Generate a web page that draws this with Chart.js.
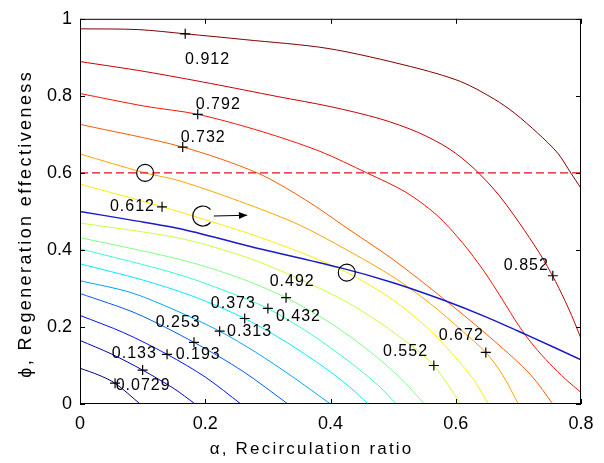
<!DOCTYPE html>
<html>
<head>
<meta charset="utf-8">
<script src="https://cdn.jsdelivr.net/npm/chart.js@4.4.0/dist/chart.umd.min.js"></script>
<style>
  html, body { margin: 0; padding: 0; background: #fff; }
  #wrap { width: 604px; height: 463px; }
</style>
</head>
<body>
<div id="wrap"><canvas id="chart" width="604" height="463"></canvas></div>
<script>
// contour levels and their lines, points as [alpha, phi]
const levels = ['0.0729', '0.133', '0.193', '0.253', '0.313', '0.373', '0.432', '0.492',
                '0.552', '0.612', '0.672', '0.732', '0.792', '0.852', '0.912'];

const c0729 = [[0,0.093],[0.03,0.075],[0.056,0.054],[0.096,0]];
const c133 = [[0,0.165],[0.05,0.13],[0.10,0.088],[0.15,0.04],[0.184,0]];
const c193 = [[0,0.23],[0.07,0.185],[0.139,0.129],[0.2,0.07],[0.257,0]];
const c253 = [[0,0.287],[0.09,0.235],[0.182,0.16],[0.26,0.085],[0.332,0]];
const c313 = [[0,0.32],[0.08,0.29],[0.15,0.245],[0.223,0.189],[0.28,0.135],[0.34,0.07],[0.40,0]];
const c373 = [[0,0.364],[0.1,0.322],[0.18,0.28],[0.263,0.222],[0.33,0.16],[0.39,0.095],[0.43,0.045],[0.46,0]];
const c432 = [[0,0.403],[0.15,0.34],[0.23,0.295],[0.30,0.248],[0.37,0.18],[0.43,0.11],[0.475,0.05],[0.505,0]];
const c492 = [[0,0.432],[0.16,0.375],[0.25,0.33],[0.329,0.276],[0.4,0.21],[0.46,0.14],[0.51,0.07],[0.55,0]];
const c552 = [[0,0.47],[0.16,0.43],[0.267,0.38],[0.35,0.325],[0.42,0.27],[0.48,0.21],[0.53,0.15],[0.565,0.10],[0.608,0]];
const c612 = [[0,0.571],[0.131,0.512],[0.267,0.444],[0.35,0.395],[0.426,0.342],[0.5,0.27],[0.56,0.19],[0.6,0.12],[0.63,0.06],[0.652,0]];
const c672 = [[0,0.649],[0.104,0.6],[0.16,0.579],[0.267,0.519],[0.35,0.465],[0.426,0.40],[0.5,0.33],[0.56,0.26],[0.61,0.19],[0.648,0.134],[0.675,0.075],[0.70,0]];
const c732 = [[0,0.726],[0.164,0.667],[0.283,0.6],[0.36,0.53],[0.426,0.457],[0.5,0.375],[0.583,0.27],[0.662,0.163],[0.72,0.075],[0.755,0]];
const c792 = [[0,0.806],[0.104,0.773],[0.188,0.752],[0.289,0.708],[0.383,0.656],[0.458,0.6],[0.52,0.55],[0.57,0.49],[0.61,0.42],[0.645,0.345],[0.675,0.27],[0.70,0.205],[0.725,0.15],[0.75,0.105],[0.775,0.065],[0.80,0.03]];
const c852 = [[0,0.889],[0.104,0.863],[0.209,0.832],[0.316,0.798],[0.4,0.772],[0.48,0.74],[0.54,0.705],[0.59,0.662],[0.63,0.61],[0.67,0.54],[0.71,0.45],[0.74,0.375],[0.765,0.30],[0.785,0.23],[0.8,0.17]];
const c912 = [[0,0.974],[0.093,0.972],[0.168,0.961],[0.263,0.946],[0.396,0.923],[0.528,0.876],[0.608,0.837],[0.662,0.791],[0.694,0.755],[0.731,0.703],[0.763,0.651],[0.784,0.599],[0.8,0.56]];

const contours = [c0729, c133, c193, c253, c313, c373, c432, c492, c552, c612, c672, c732, c792, c852, c912];

// jet colours, low to high
const lineColors = ['#000080', '#0000c8', '#0012ff', '#005bff', '#00a4ff', '#00edff', '#37ffc8', '#80ff80',
                    '#c8ff37', '#ffed00', '#ffa400', '#ff5b00', '#ff1200', '#c80000', '#800000'];

// clabel '+' marks and the text beside them (text centre)
const plusAt = [[0.056,0.054],[0.10,0.088],[0.139,0.129],[0.182,0.16],[0.223,0.189],[0.263,0.222],[0.30,0.248],[0.329,0.276],
                [0.565,0.10],[0.131,0.512],[0.648,0.134],[0.164,0.667],[0.188,0.752],[0.755,0.333],[0.168,0.961]];
const labelAt = [[0.10,0.047],[0.086,0.132],[0.188,0.127],[0.156,0.212],[0.27,0.189],[0.244,0.261],[0.348,0.227],[0.338,0.318],
                 [0.519,0.137],[0.083,0.512],[0.608,0.178],[0.196,0.692],[0.22,0.778],[0.712,0.359],[0.203,0.894]];

// operating line, limit line and marked points
const blueCurve = [[0,0.5],[0.08,0.478],[0.16,0.455],[0.267,0.411],[0.415,0.354],[0.5,0.315],[0.58,0.27],[0.65,0.225],[0.715,0.178],[0.8,0.115]];
const limitLine = [[0,0.6],[0.8,0.6]];
const circleAt = [[0.104,0.6],[0.426,0.341]];
const arrowFrom = [0.196, 0.488];
const arrowTo = [0.267, 0.49];

const xTicks = [0, 0.2, 0.4, 0.6, 0.8];
const yTicks = [0, 0.2, 0.4, 0.6, 0.8, 1];

const FONT = "'Liberation Sans', Arial, sans-serif";
const toXY = arr => arr.map(p => ({ x: p[0], y: p[1] }));

// text with extra spacing between letters, like the old bitmap font
function spacedText(ctx, str, x, y, sp, align) {
    const chars = Array.from(str);
    const w = chars.map(c => ctx.measureText(c).width);
    const total = w.reduce((s, v) => s + v, 0) + sp * (chars.length - 1);
    let cx = align === 'center' ? x - total / 2 : (align === 'right' ? x - total : x);
    ctx.textAlign = 'left';
    chars.forEach((c, i) => { ctx.fillText(c, cx, y); cx += w[i] + sp; });
}

const datasets = [];
contours.forEach((c, i) => {
    datasets.push({
        data: toXY(c),
        borderColor: lineColors[i],
        borderWidth: 1,
        showLine: true,
        pointRadius: 0,
        tension: 0.3,
        order: 3
    });
});
datasets.push({
    data: toXY(blueCurve),
    borderColor: '#1a1ac8',
    borderWidth: 1.5,
    showLine: true,
    pointRadius: 0,
    tension: 0.3,
    order: 2
});
datasets.push({
    data: toXY(limitLine),
    borderColor: '#e01020',
    borderWidth: 1.3,
    borderDash: [8, 4],
    showLine: true,
    pointRadius: 0,
    order: 2
});
datasets.push({
    data: toXY(plusAt),
    showLine: false,
    pointStyle: 'cross',
    pointRadius: 5,
    borderColor: '#000',
    borderWidth: 1.2,
    order: 1
});
datasets.push({
    data: toXY(circleAt),
    showLine: false,
    pointStyle: 'circle',
    pointRadius: 8.5,
    borderColor: '#000',
    backgroundColor: 'rgba(0,0,0,0)',
    borderWidth: 1.2,
    order: 1
});

// box, inward ticks, contour labels, arrow and axis titles
const extras = {
    id: 'extras',
    afterDatasetsDraw(chart) {
        const { ctx, chartArea: a, scales: { x, y } } = chart;
        ctx.save();
        ctx.strokeStyle = '#000';
        ctx.lineWidth = 1;
        ctx.strokeRect(a.left + 0.5, a.top + 0.5, a.right - a.left - 1, a.bottom - a.top - 1);
        const tl = 5;
        ctx.beginPath();
        xTicks.forEach(v => {
            const px = Math.round(x.getPixelForValue(v)) + 0.5;
            ctx.moveTo(px, a.bottom); ctx.lineTo(px, a.bottom - tl);
            ctx.moveTo(px, a.top); ctx.lineTo(px, a.top + tl);
        });
        yTicks.forEach(v => {
            const py = Math.round(y.getPixelForValue(v)) + 0.5;
            ctx.moveTo(a.left, py); ctx.lineTo(a.left + tl, py);
            ctx.moveTo(a.right, py); ctx.lineTo(a.right - tl, py);
        });
        ctx.stroke();

        // contour labels
        ctx.fillStyle = '#000';
        ctx.font = '16px ' + FONT;
        ctx.textBaseline = 'middle';
        labelAt.forEach((p, i) => {
            spacedText(ctx, levels[i], x.getPixelForValue(p[0]), y.getPixelForValue(p[1]), 1, 'center');
        });

        // open circle with arrow
        const cx = x.getPixelForValue(arrowFrom[0]);
        const cy = y.getPixelForValue(arrowFrom[1]);
        ctx.lineWidth = 1.2;
        ctx.beginPath();
        ctx.arc(cx, cy, 10, 0.22 * Math.PI, 1.78 * Math.PI);
        ctx.stroke();
        const ex = x.getPixelForValue(arrowTo[0]);
        const ey = y.getPixelForValue(arrowTo[1]);
        const sx = cx + 11;
        ctx.beginPath();
        ctx.moveTo(sx, cy); ctx.lineTo(ex, ey);
        ctx.stroke();
        const ang = Math.atan2(ey - cy, ex - sx);
        ctx.beginPath();
        ctx.moveTo(ex, ey);
        ctx.lineTo(ex - 9 * Math.cos(ang - 0.4), ey - 9 * Math.sin(ang - 0.4));
        ctx.lineTo(ex - 9 * Math.cos(ang + 0.4), ey - 9 * Math.sin(ang + 0.4));
        ctx.closePath();
        ctx.fill();

        // axis titles
        ctx.font = '17px ' + FONT;
        ctx.textBaseline = 'alphabetic';
        spacedText(ctx, 'α, Recirculation ratio', (a.left + a.right) / 2 - 20, 454, 2.2, 'center');
        ctx.translate(26, 225);
        ctx.rotate(-Math.PI / 2);
        ctx.font = '18px ' + FONT;
        ctx.textBaseline = 'middle';
        spacedText(ctx, 'ϕ, Regeneration effectiveness', 0, 0, 2.4, 'center');
        ctx.restore();
    }
};

const tickLabel = v => String(Number(v.toFixed(1)));

new Chart(document.getElementById('chart'), {
    type: 'scatter',
    data: { datasets: datasets },
    options: {
        responsive: false,
        animation: false,
        devicePixelRatio: 1,
        layout: { padding: { left: 0, right: 23, top: 17, bottom: 0 } },
        plugins: { legend: { display: false }, tooltip: { enabled: false } },
        scales: {
            x: {
                type: 'linear',
                min: 0,
                max: 0.8,
                afterFit: s => { s.height = 59; },
                afterBuildTicks: s => { s.ticks = xTicks.map(v => ({ value: v })); },
                grid: { display: false, drawTicks: false },
                border: { display: false },
                ticks: { color: '#000', padding: 9, font: { size: 18, family: FONT }, callback: tickLabel }
            },
            y: {
                type: 'linear',
                min: 0,
                max: 1,
                afterFit: s => { s.width = 80; },
                afterBuildTicks: s => { s.ticks = yTicks.map(v => ({ value: v })); },
                grid: { display: false, drawTicks: false },
                border: { display: false },
                ticks: { color: '#000', padding: 8, font: { size: 18, family: FONT }, callback: tickLabel }
            }
        }
    },
    plugins: [extras]
});
</script>
</body>
</html>
